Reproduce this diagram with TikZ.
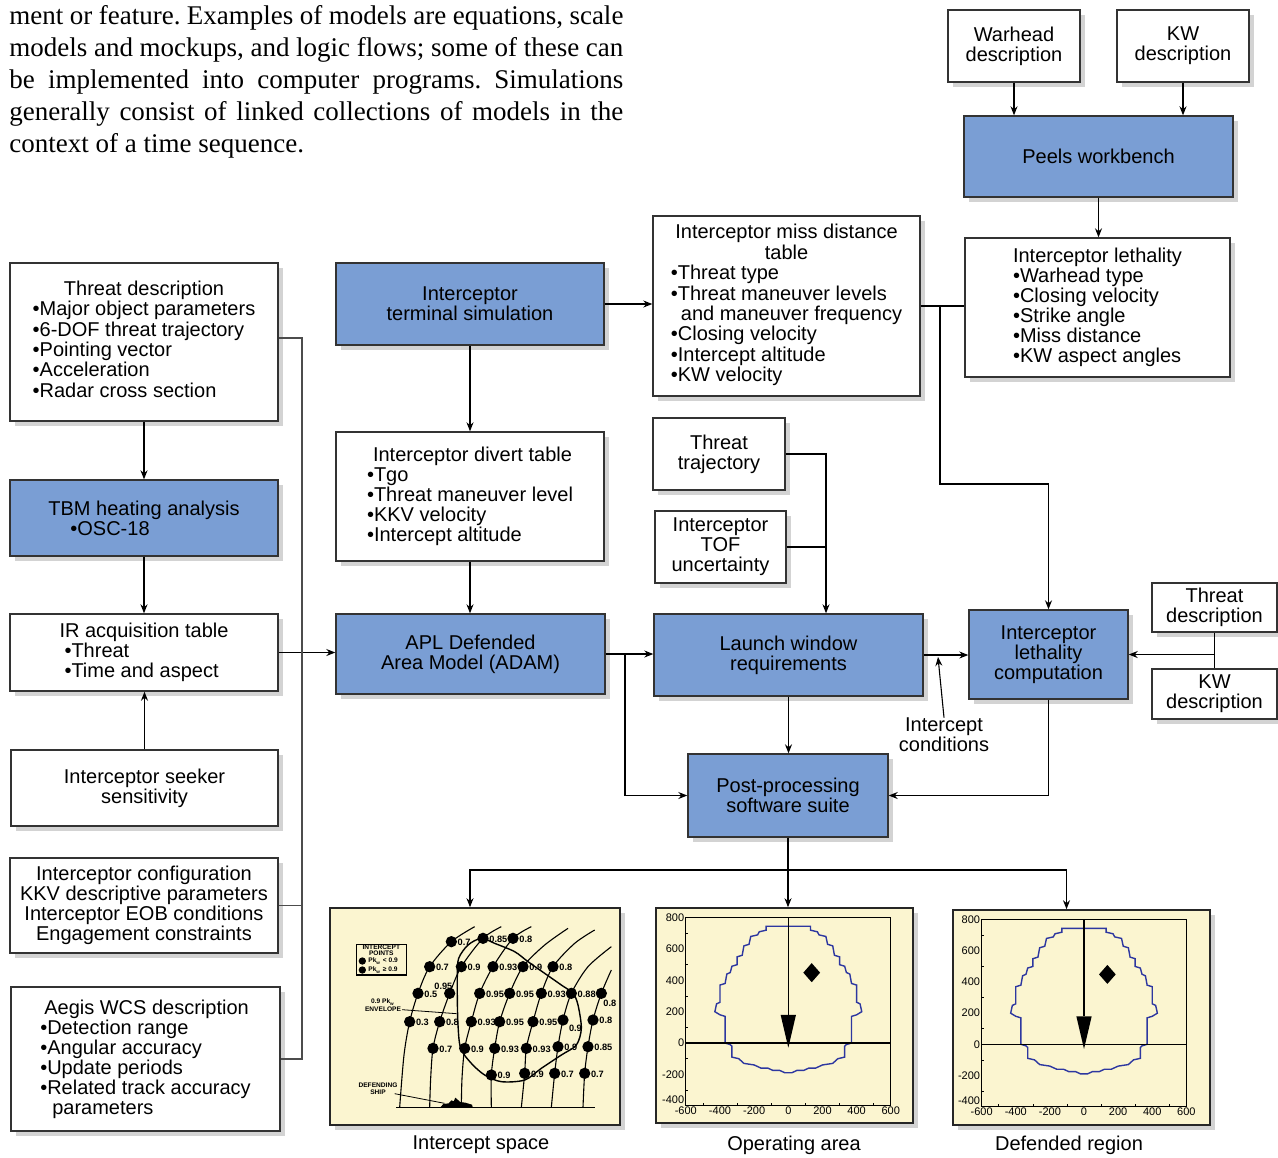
\documentclass[tikz,border=0pt]{standalone}
\usepackage{fontspec}
\setmainfont{Liberation Serif}
\setsansfont{Liberation Sans}
\usetikzlibrary{arrows.meta,shadows,calc}

\definecolor{boxblue}{RGB}{122,158,212}
\definecolor{plotyellow}{RGB}{251,245,208}
\definecolor{envblue}{RGB}{45,55,160}

\tikzset{
  wbox/.style={draw=black!80, line width=0.7pt, fill=white,
    drop shadow={shadow xshift=2.5pt, shadow yshift=-2.5pt, opacity=0.35},
    font=\sffamily\fontsize{10}{10}\selectfont, align=center, inner sep=2pt},
  bbox/.style={wbox, fill=boxblue},
  plotbox/.style={draw=black!85, line width=0.8pt, fill=plotyellow,
    drop shadow={shadow xshift=2.5pt, shadow yshift=-2.5pt, opacity=0.35}},
  link/.style={line width=0.55pt, -{Stealth[length=4.5pt,width=3.5pt]}},
  plain/.style={line width=0.55pt},
  capt/.style={font=\sffamily\fontsize{10}{10}\selectfont, align=center, inner sep=0pt},
  tick/.style={font=\sffamily\fontsize{5.5}{6}\selectfont, inner sep=0.6pt},
  ptlab/.style={font=\sffamily\fontsize{4.6}{5}\selectfont\bfseries, inner sep=0pt, anchor=west},
  notelab/.style={font=\sffamily\fontsize{3.3}{3.5}\selectfont\bfseries, inner sep=0pt},
}

\begin{document}
\begin{tikzpicture}[x=0.5pt, y=-0.5pt]
\useasboundingbox (0,0) rectangle (1278,1157);

% running text
\node[anchor=north west, inner sep=0pt, text width=307pt, align=justify,
      font=\rmfamily\fontsize{13.5}{16}\selectfont\frenchspacing] (intro) at (9,5)
  {ment or feature. Examples of models are equations, scale\linebreak
   models and mockups, and logic flows; some of these can\linebreak
   be implemented into computer programs. Simulations\linebreak
   generally consist of linked collections of models in the\linebreak
   context of a time sequence.};

% top right
\node[wbox, minimum width=66pt, minimum height=36pt] (warhead) at (1014,46) {Warhead\\description};
\node[wbox, minimum width=66pt, minimum height=36pt] (kwtop) at (1183,46) {KW\\description};
\node[bbox, minimum width=134.5pt, minimum height=40.5pt] (peels) at (1098.5,156.5) {Peels workbench};
\node[wbox, minimum width=132.5pt, minimum height=69.5pt, align=left] (lethtab) at (1097.5,307.5)
  {Interceptor lethality\\•Warhead type\\•Closing velocity\\•Strike angle\\•Miss distance\\•KW aspect angles};

% left column
\node[wbox, minimum width=134pt, minimum height=79pt] (threatdesc) at (144,342)
  {\begin{tabular}{@{}l@{}}\multicolumn{1}{@{}c@{}}{Threat description}\\•Major object parameters\\•6-DOF threat trajectory\\•Pointing vector\\•Acceleration\\•Radar cross section\end{tabular}};
\node[bbox, minimum width=134pt, minimum height=38pt, align=left] (tbm) at (144,518)
  {TBM heating analysis\\\hspace*{11pt}•OSC-18};
\node[wbox, minimum width=134pt, minimum height=38.5pt, align=left] (irtab) at (144,652.5)
  {IR acquisition table\\\hspace*{2.5pt}•Threat\\\hspace*{2.5pt}•Time and aspect};
\node[wbox, minimum width=133.5pt, minimum height=38pt] (seeker) at (144.5,788)
  {Interceptor seeker\\sensitivity};
\node[wbox, minimum width=134pt, minimum height=47.5pt] (config) at (144,905.5)
  {Interceptor configuration\\KKV descriptive parameters\\Interceptor EOB conditions\\Engagement constraints};
\node[wbox, minimum width=134.5pt, minimum height=72pt, align=left] (aegis) at (145.5,1059)
  {\hspace*{2pt}Aegis WCS description\\•Detection range\\•Angular accuracy\\•Update periods\\•Related track accuracy\\\hspace*{6pt}parameters};

% middle column
\node[bbox, minimum width=134pt, minimum height=41pt] (termsim) at (470,304)
  {Interceptor\\terminal simulation};
\node[wbox, minimum width=134pt, minimum height=64.5pt, align=left] (divert) at (470,496.5)
  {\hspace*{3pt}Interceptor divert table\\•Tgo\\•Threat maneuver level\\•KKV velocity\\•Intercept altitude};
\node[bbox, minimum width=134.5pt, minimum height=40pt] (adam) at (470.5,654)
  {APL Defended\\Area Model (ADAM)};

% right part
\node[wbox, minimum width=133.5pt, minimum height=90pt] (misstab) at (786.5,306)
  {\begin{tabular}{@{}l@{}}\multicolumn{1}{@{}c@{}}{Interceptor miss distance}\\\multicolumn{1}{@{}c@{}}{table}\\•Threat type\\•Threat maneuver levels\\\hspace*{0.5em}and maneuver frequency\\•Closing velocity\\•Intercept altitude\\•KW velocity\end{tabular}};
\node[wbox, minimum width=66pt, minimum height=36pt] (threattraj) at (719,454) {Threat\\trajectory};
\node[wbox, minimum width=65.5pt, minimum height=36pt] (tof) at (720.5,547) {Interceptor\\TOF\\uncertainty};
\node[bbox, minimum width=134.5pt, minimum height=41pt] (launch) at (788.5,655)
  {Launch window\\requirements};
\node[bbox, minimum width=79.5pt, minimum height=44.5pt] (lethcomp) at (1048.5,654.5)
  {Interceptor\\lethality\\computation};
\node[wbox, minimum width=62.5pt, minimum height=24.5pt] (threatsm) at (1214.5,607.5) {Threat\\description};
\node[wbox, minimum width=62.5pt, minimum height=25pt] (kwsm) at (1214.5,694) {KW\\description};
\node[bbox, minimum width=100pt, minimum height=41.5pt] (post) at (788,795.5)
  {Post-processing\\software suite};
\node[capt] (icond) at (944,735) {Intercept\\conditions};

% plot frames
\node[plotbox, minimum width=145pt, minimum height=108.5pt] (plotA) at (475,1016.5) {};
\node[plotbox, minimum width=128.5pt, minimum height=107.5pt] (plotB) at (784.5,1015.5) {};
\node[plotbox, minimum width=128.5pt, minimum height=107.5pt] (plotC) at (1081.5,1017.5) {};
\node[capt] (capA) at (481,1145) {Intercept space};
\node[capt] (capB) at (794,1145) {Operating area};
\node[capt] (capC) at (1069,1145) {Defended region};

% connectors
\draw[link] (warhead.south) -- (warhead.south |- peels.north);
\draw[link] (kwtop.south) -- (kwtop.south |- peels.north);
\draw[link] (peels.south) -- (peels.south |- lethtab.north);
\draw[link] (termsim.east) -- (termsim.east -| misstab.west);
\draw[link] (termsim.south) -- (termsim.south |- divert.north);
\draw[link] (divert.south) -- (divert.south |- adam.north);
\draw[link] (threatdesc.south) -- (threatdesc.south |- tbm.north);
\draw[link] (tbm.south) -- (tbm.south |- irtab.north);
\draw[link] (seeker.north) -- (seeker.north |- irtab.south);
\draw[link] (irtab.east) -- (irtab.east -| adam.west);

\coordinate (busT) at (302,338);
\coordinate (busB) at (302,1059);
\draw[plain, black!70] (threatdesc.east |- busT) -- (busT) -- (busB) -- (aegis.east);
\draw[plain, black!70] (config.east) -- (config.east -| busT);

\draw[link] (adam.east) -- (adam.east -| launch.west);
\coordinate (split) at (625,654);
\draw[link] (split) |- (post.west);
\draw[link] (launch.south) -- (launch.south |- post.north);

\coordinate (ltin) at ([xshift=18.75pt]launch.north);
\draw[link] (threattraj.east) -| (ltin);
\draw[plain] (tof.east) -- (tof.east -| ltin);

\draw[plain] (misstab.east) -- (misstab.east -| lethtab.west);
\coordinate (mbr) at (940,306);
\draw[link] (mbr) -- (940,484) -| (lethcomp.north);

\draw[link] (launch.east) -- (launch.east -| lethcomp.west);
\coordinate (icpt) at (938,657);
\draw[link] (icond.north) -- (icpt);

\draw[plain] (threatsm.south) -- (kwsm.north);
\draw[link] (threatsm.south |- lethcomp.east) -- (lethcomp.east);
\draw[link] (lethcomp.south) |- (post.east);

\coordinate (fan) at (788,870);
\draw[link] (post.south) -- (post.south |- plotB.north);
\draw[link] (fan) -| ([xshift=-2.5pt]plotA.north);
\draw[link] (fan) -| ([xshift=-7.5pt]plotC.north);

% intercept space sketch
\begin{scope}[shift={(328,905)}, scale=1/3]
  \draw[plain] (205,607) -- (800,607);
  \draw[plain] plot[smooth] coordinates {(215,607) (228,450) (245,350) (270,265) (305,185) (370,110) (440,65)};
  \draw[plain] plot[smooth] coordinates {(305,607) (308,520) (315,430) (335,350) (365,265) (400,185) (465,100) (520,65)};
  \draw[plain] plot[smooth] coordinates {(400,607) (402,520) (410,430) (430,350) (455,265) (495,185) (555,100) (610,65)};
  \draw[plain] plot[smooth] coordinates {(490,607) (490,510) (500,430) (515,350) (545,265) (585,185) (650,120) (720,70)};
  \draw[plain] plot[smooth] coordinates {(580,607) (590,505) (595,430) (615,350) (640,265) (675,185) (740,115) (800,75)};
  \draw[plain] plot[smooth] coordinates {(670,607) (680,505) (690,425) (705,345) (730,265) (780,185) (850,125)};
  \draw[plain] plot[smooth] coordinates {(765,607) (770,505) (780,425) (795,345) (820,265) (850,195)};
  \draw[line width=0.7pt] plot[smooth cycle] coordinates {(392,160) (420,120) (460,100) (500,115) (560,140) (600,170) (650,205) (700,240) (735,265) (750,300) (760,370) (745,420) (700,450) (640,490) (590,525) (520,530) (470,510) (430,475) (398,430) (390,360) (388,280) (388,210)};
  \foreach \cx/\cy/\lab in {370/110/0.7, 465/100/0.85, 555/100/0.8,
      305/185/0.7, 400/185/0.9, 495/185/0.93, 585/185/0.9, 675/185/0.8,
      270/265/0.5, 455/265/0.95, 545/265/0.95, 640/265/0.93, 730/265/0.88,
      245/350/0.3, 335/350/0.8, 430/350/0.93, 515/350/0.95, 615/350/0.95, 795/345/0.8,
      315/430/0.7, 410/430/0.9, 500/430/0.93, 595/430/0.93, 690/425/0.9, 780/425/0.85,
      490/510/0.9, 590/505/0.9, 680/505/0.7, 770/505/0.7}
  {
    \fill (\cx,\cy) circle (17);
    \node[ptlab] at (\cx+18,\cy+2) {\lab};
  }
  \fill (365,265) circle (17);
  \node[ptlab] at (318,243) {0.95};
  \fill (820,265) circle (17);
  \node[ptlab] at (825,294) {0.8};
  \fill (705,345) circle (17);
  \node[ptlab] at (722,370) {0.9};
  % legend
  \draw[line width=0.6pt] (85,118) rectangle (235,210);
  \node[notelab] at (160,128) {INTERCEPT};
  \node[notelab] at (160,144) {POINTS};
  \fill (103,168) circle (11);
  \node[notelab, anchor=west] at (120,168) {Pk\textsubscript{w} < 0.9};
  \fill (103,195) circle (11);
  \node[notelab, anchor=west] at (120,195) {Pk\textsubscript{w} ≥ 0.9};
  % envelope and ship notes
  \node[notelab] at (165,292) {0.9 Pk\textsubscript{w}};
  \node[notelab] at (165,314) {ENVELOPE};
  \draw[line width=0.4pt] (222,314) -- (386,326);
  \node[notelab] at (150,541) {DEFENDING};
  \node[notelab] at (150,562) {SHIP};
  \draw[line width=0.4pt] (200,566) -- (350,595);
  \fill (338,606) -- (346,597) -- (362,595) -- (370,586) -- (377,589) -- (382,578) -- (390,585) -- (397,591) -- (412,593) -- (432,599) -- (434,606) -- cycle;
\end{scope}

% operating area and defended region
\foreach \ox/\oy/\sx/\sy in {788.3/1043/0.1708/0.1567, 1084/1044.3/0.1706/0.1557}
{
  \begin{scope}[shift={(\ox,\oy)}, xscale=\sx, yscale=-\sy]
    \draw[line width=0.6pt] (-600,-400) rectangle (600,800);
    \foreach \t in {-300,-100,100,300,500,700}
      \draw[line width=0.3pt] (-600,\t) -- (-585,\t);
    \foreach \t in {-500,-300,-100,100,300,500}
      \draw[line width=0.3pt] (\t,-400) -- (\t,-385);
    \foreach \t in {-200,0,...,800}
      \node[tick, anchor=east] at (-600,\t) {\t};
    \node[tick, anchor=south east] at (-600,-400) {-400};
    \foreach \t in {-600,-400,...,600}
      \node[tick, anchor=north] at (\t,-400) {\t};
    \draw[envblue, line width=0.7pt] (-130,745) -- (130,745) -- (130,720) -- (170,710) -- (180,690) -- (220,680) -- (230,630) -- (260,620) -- (270,560) -- (300,550) -- (300,500) -- (330,490) -- (340,450) -- (360,440) -- (370,380) -- (400,370) -- (400,260) -- (420,250) -- (430,200) -- (400,180) -- (370,170) -- (370,0) -- (340,-10) -- (330,-20) -- (330,-90) -- (290,-100) -- (260,-130) -- (200,-140) -- (160,-160) -- (120,-160) -- (90,-175) -- (50,-175) -- (20,-190) -- (-20,-190) -- (-50,-175) -- (-90,-175) -- (-120,-160) -- (-160,-160) -- (-200,-140) -- (-260,-130) -- (-290,-100) -- (-330,-90) -- (-330,-20) -- (-340,-10) -- (-370,0) -- (-370,170) -- (-400,180) -- (-430,200) -- (-420,250) -- (-400,260) -- (-400,370) -- (-370,380) -- (-360,440) -- (-340,450) -- (-330,490) -- (-300,500) -- (-300,550) -- (-270,560) -- (-260,620) -- (-230,630) -- (-220,680) -- (-180,690) -- (-170,710) -- (-130,720) -- cycle;
    \draw[line width=0.6pt] (-600,0) -- (600,0);
    \draw[line width=0.6pt] (0,800) -- (0,180);
    \fill (-45,180) -- (45,180) -- (0,-30) -- cycle;
    \fill (137,510) -- (186,449) -- (137,388) -- (88,449) -- cycle;
  \end{scope}
}
\end{tikzpicture}
\end{document}
